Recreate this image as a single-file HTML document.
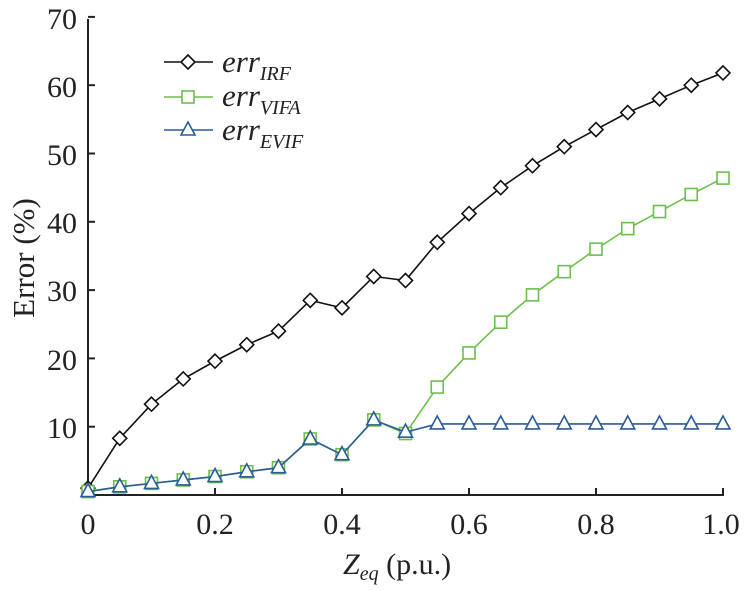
<!DOCTYPE html><html><head><style>body{margin:0;background:#fff}</style></head><body>
<svg width="745" height="585" xmlns="http://www.w3.org/2000/svg" font-family="Liberation Serif, serif">
<rect width="745" height="585" fill="#fff"/>
<g stroke="#222" stroke-width="2" fill="none">
<line x1="88" y1="19" x2="88" y2="495"/><line x1="88" y1="495" x2="724" y2="495"/>
</g>
<g id="ax"></g>
<g font-size="30" fill="#222" text-anchor="end">
<text x="77" y="29">70</text><text x="77" y="97">60</text><text x="77" y="165">50</text><text x="77" y="233">40</text><text x="77" y="301">30</text><text x="77" y="370">20</text><text x="77" y="438">10</text>
</g>
<g font-size="30" fill="#222" text-anchor="middle">
<text x="88" y="534">0</text><text x="215" y="534">0.2</text><text x="342" y="534">0.4</text><text x="469" y="534">0.6</text><text x="596" y="534">0.8</text><text x="721" y="534">1.0</text>
</g>
<text x="343" y="574" font-size="30" fill="#222"><tspan font-style="italic">Z</tspan><tspan font-style="italic" font-size="20" dy="6">eq</tspan><tspan dy="-6"> (p.u.)</tspan></text>
<text transform="translate(34,258) rotate(-90)" font-size="31" fill="#222" text-anchor="middle">Error (%)</text>
<g id="plot"></g>
<g font-style="italic" fill="#222">
<text x="222" y="72" font-size="31">err<tspan font-size="20" dy="8">IRF</tspan></text>
<text x="222" y="106" font-size="31">err<tspan font-size="20" dy="8">VIFA</tspan></text>
<text x="222" y="140" font-size="31">err<tspan font-size="20" dy="8">EVIF</tspan></text>
</g>
</svg>
<script>
const ns="http://www.w3.org/2000/svg",P=document.getElementById('plot'),A=document.getElementById('ax');
function el(t,a,p){const e=document.createElementNS(ns,t);for(const k in a)e.setAttribute(k,a[k]);(p||P).appendChild(e);return e}
for(let i=1;i<=7;i++){const y=495-i*68.3;el('line',{x1:88,x2:95,y1:y,y2:y,stroke:'#222','stroke-width':2},A)}
for(let i=1;i<=5;i++){const x=88+i*127;el('line',{x1:x,x2:x,y1:495,y2:488,stroke:'#222','stroke-width':2},A)}
const X=i=>88+i*31.75,Y=v=>495-v*6.83;
const irf=[1,8.3,13.3,17,19.6,22,24,28.5,27.4,32,31.4,37,41.2,45,48.2,51,53.5,56,58,60,61.8];
const vifa=[0.5,1.2,1.7,2.2,2.7,3.4,4,8.2,5.9,11,9,15.8,20.8,25.3,29.3,32.7,36,39,41.5,44,46.4];
const evif=vifa.slice(0,10).concat([9.2]).concat(Array(10).fill(10.4));
function mk(t,x,y,c){if(t=='d')el('polygon',{points:`${x},${y-7} ${x+7},${y} ${x},${y+7} ${x-7},${y}`,fill:'#fff',stroke:c,'stroke-width':1.6});
else if(t=='s')el('rect',{x:x-6,y:y-6,width:12,height:12,fill:'#fff',stroke:c,'stroke-width':1.6});
else el('polygon',{points:`${x},${y-8} ${x+7},${y+5} ${x-7},${y+5}`,fill:'#fff',stroke:c,'stroke-width':1.6});}
function ser(d,c,t){el('polyline',{points:d.map((v,i)=>X(i)+','+Y(v)).join(' '),fill:'none',stroke:c,'stroke-width':1.6});d.forEach((v,i)=>mk(t,X(i),Y(v),c));}
ser(irf,'#111','d');ser(vifa,'#6cbf4a','s');ser(evif,'#2a5c9a','t');
[[62,'#111','d'],[97,'#6cbf4a','s'],[130,'#2a5c9a','t']].forEach(([y,c,t])=>{el('line',{x1:164,x2:213,y1:y,y2:y,stroke:c,'stroke-width':1.6});mk(t,188,y,c)});
</script>
</body></html>
